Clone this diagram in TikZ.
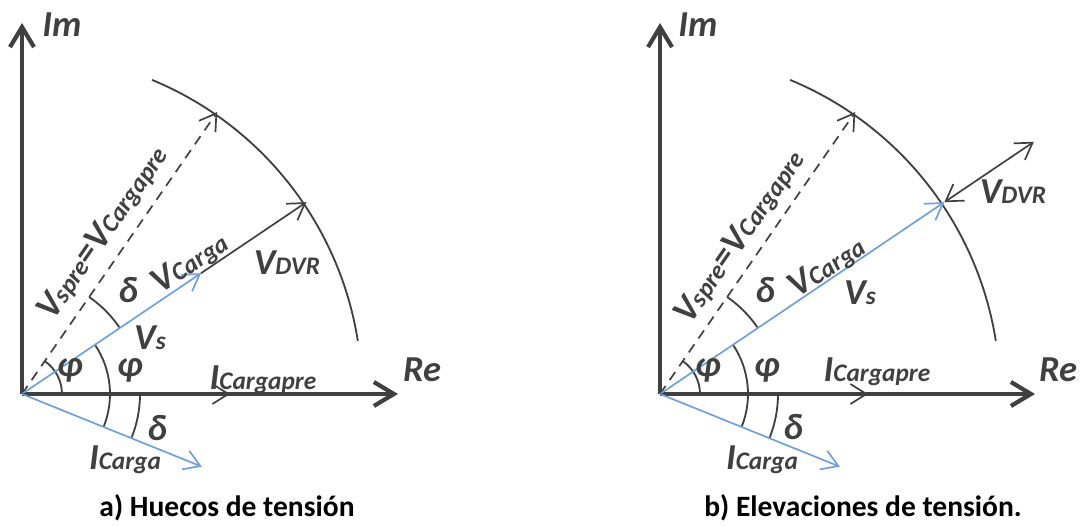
\documentclass[tikz,border=0pt]{standalone}
\usepackage{fontspec}
\setmainfont{Carlito}
\usetikzlibrary{arrows.meta,positioning}
\definecolor{axisgray}{RGB}{64,64,64}
\definecolor{phasorblue}{RGB}{112,160,218}
\newcommand{\ph}[2]{#1{\fontsize{18}{18}\selectfont #2}}
\tikzset{
    axis/.style={draw=axisgray, line width=3pt, -{Straight Barb[length=5mm,width=6mm]}},
    vec/.style={draw=axisgray, line width=1.2pt, -{Straight Barb[length=4mm,width=5mm]}},
    bvec/.style={vec, draw=phasorblue},
    ang/.style={draw=axisgray, line width=1.3pt},
    lbl/.style={text=axisgray, inner sep=0pt, font=\fontsize{26}{26}\selectfont\bfseries\itshape},
    caption/.style={text=black, inner sep=0pt, font=\fontsize{21}{21}\selectfont\bfseries},
}

\begin{document}
\begin{tikzpicture}[x=0.025cm, y=0.025cm]
\useasboundingbox (0,0) rectangle (1086,526);

% a) Huecos de tension
\begin{scope}[shift={(22,132)}]
    \coordinate (Oa) at (0,0);
    \coordinate (ImA) at (0,371);
    \coordinate (ReA) at (376,0);
    \coordinate (SpreA) at (55.3:343);
    \coordinate (VsA) at (34:343);
    \coordinate (VcA) at (34:216);
    \coordinate (IpreA) at (208,0);
    \coordinate (IcA) at (-22:194);

    \draw[ang] (67.5:340) arc[start angle=67.5, end angle=9, radius=340];
    \draw[ang] (0:40) arc[start angle=0, end angle=55.3, radius=40];
    \draw[ang] (34:118) arc[start angle=34, end angle=55.3, radius=118];
    \draw[ang] (-22:88) arc[start angle=-22, end angle=34, radius=88];
    \draw[ang] (-22:118) arc[start angle=-22, end angle=0, radius=118];

    \draw[axis] (Oa) -- (ImA);
    \draw[axis] (Oa) -- (ReA);
    \draw[vec, dash pattern=on 7pt off 5pt] (Oa) -- (SpreA);
    \draw[vec] (VcA) -- (VsA);
    \draw[bvec] (Oa) -- (VcA);
    \draw[vec] (Oa) -- (IpreA);
    \draw[bvec] (Oa) -- (IcA);

    \node[lbl] (lImA) at (40,369) {Im};
    \node[lbl] (lReA) at (400,24) {Re};
    \node[lbl, rotate=55.3] (lSpreA) at (81,161) {\ph{V}{spre}=\ph{V}{Cargapre}};
    \node[lbl, rotate=34] (lVcA) at (168,131) {\ph{V}{Carga}};
    \node[lbl] (lDvrA) at (265,131) {\ph{V}{DVR}};
    \node[lbl] (lVsA) at (128,56) {\ph{V}{s}};
    \node[lbl] (lDeltaA) at (106,104) {δ};
    \node[lbl] (lPhiA) at (48,24) {φ};
    \node[lbl] (lPhiiA) at (108,24) {φ};
    \node[lbl] (lIpreA) at (241,14) {\ph{I}{Cargapre}};
    \node[lbl] (lIcA) at (103,-66) {\ph{I}{Carga}};
    \node[lbl] (lDeltaaA) at (135,-34) {δ};
    \node[caption] (capA) at (205,-114) {a) Huecos de tensión};
\end{scope}

% b) Elevaciones de tension
\begin{scope}[shift={(660,132)}]
    \coordinate (Ob) at (0,0);
    \coordinate (ImB) at (0,371);
    \coordinate (ReB) at (375,0);
    \coordinate (SpreB) at (55.3:343);
    \coordinate (VsB) at (34:343);
    \coordinate (DvrB) at (34:451);
    \coordinate (IpreB) at (208,0);
    \coordinate (IcB) at (-22:194);

    \draw[ang] (67.5:340) arc[start angle=67.5, end angle=9, radius=340];
    \draw[ang] (0:40) arc[start angle=0, end angle=55.3, radius=40];
    \draw[ang] (34:118) arc[start angle=34, end angle=55.3, radius=118];
    \draw[ang] (-22:88) arc[start angle=-22, end angle=34, radius=88];
    \draw[ang] (-22:118) arc[start angle=-22, end angle=0, radius=118];

    \draw[axis] (Ob) -- (ImB);
    \draw[axis] (Ob) -- (ReB);
    \draw[vec, dash pattern=on 7pt off 5pt] (Ob) -- (SpreB);
    \draw[bvec] (Ob) -- (VsB);
    \draw[vec, {Straight Barb[length=4mm,width=5mm]}-{Straight Barb[length=4mm,width=5mm]}] (VsB) -- (DvrB);
    \draw[vec] (Ob) -- (IpreB);
    \draw[bvec] (Ob) -- (IcB);

    \node[lbl] (lImB) at (38,369) {Im};
    \node[lbl] (lReB) at (398,24) {Re};
    \node[lbl, rotate=55.3] (lSpreB) at (80,157) {\ph{V}{spre}=\ph{V}{Cargapre}};
    \node[lbl, rotate=34] (lVcB) at (167,127) {\ph{V}{Carga}};
    \node[lbl] (lDvrB) at (353,202) {\ph{V}{DVR}};
    \node[lbl] (lVsB) at (200,101) {\ph{V}{s}};
    \node[lbl] (lDeltaB) at (105,104) {δ};
    \node[lbl] (lPhiB) at (48,24) {φ};
    \node[lbl] (lPhiiB) at (107,24) {φ};
    \node[lbl] (lIpreB) at (217,22) {\ph{I}{Cargapre}};
    \node[lbl] (lIcB) at (102,-66) {\ph{I}{Carga}};
    \node[lbl] (lDeltaaB) at (133,-33) {δ};
    \node[caption] (capB) at (203,-114) {b) Elevaciones de tensión.};
\end{scope}
\end{tikzpicture}
\end{document}
